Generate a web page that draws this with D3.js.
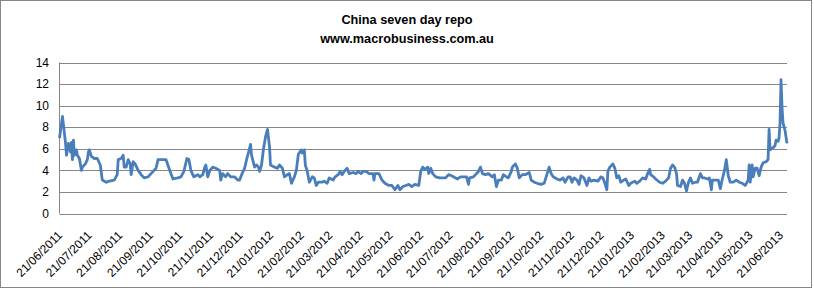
<!DOCTYPE html>
<html>
<head>
<meta charset="utf-8">
<title>China seven day repo</title>
<style>
body { margin: 0; background: #fff; }
text { font-family: "Liberation Sans", Arial, sans-serif; fill: #000; }
.title { font-size: 12.7px; font-weight: bold; }
.tick-label { font-size: 12px; }
.grid line { stroke: #868686; stroke-width: 1px; }
path.repo { fill: none; stroke: #4a7ebb; stroke-width: 2.8px; stroke-linejoin: round; }
</style>
</head>
<body>
<script src="https://cdn.jsdelivr.net/npm/d3@7"></script>
<script>

// days since 21/06/2011 for each reading, and the repo rate
var obsDay = [0,3,4,6,7,9,11,12,13,14,15,17,18,20,22,23,26,28,29,30,32,35,38,41,43,47,50,55,58,59,
  62,64,65,67,69,71,72,74,76,79,82,85,89,92,95,97,99,102,107,110,114,119,122,125,128,130,132,135,139,141,
  144,146,147,149,151,154,157,161,162,164,167,169,172,176,179,
  181,183,186,188,190,192,193,196,198,200,201,203,205,207,209,211,212,216,219,221,
  224,226,229,231,233,236,238,240,243,244,246,247,249,251,254,256,258,260,264,266,
  269,271,275,277,280,282,284,286,289,291,295,298,300,303,305,308,311,315,316,317,
  321,324,327,331,334,337,340,342,345,348,351,354,357,361,
  363,365,367,370,371,373,375,378,382,385,388,391,394,398,400,403,407,409,411,412,
  416,418,421,423,425,428,431,435,437,439,441,444,446,449,451,454,455,458,460,462,
  465,468,472,474,477,480,484,487,490,492,494,496,500,503,506,508,511,513,515,517,
  520,522,524,527,530,532,534,537,541,
  544,546,548,550,551,553,556,558,560,562,564,567,569,572,574,578,580,583,586,589,
  591,593,594,597,599,603,606,609,612,614,616,618,620,621,624,626,628,630,632,634,
  636,639,641,644,646,648,651,653,655,656,659,662,664,666,668,670,672,674,677,680,
  683,686,689,692,693,694,696,697,699,701,703,705,707,710,712,713,714,717,719,720,
  722,723,724,725,726,727,729,731];

var repo = [7.0,9.0,8.2,6.6,5.4,6.5,5.7,6.6,5.0,6.8,5.4,5.9,5.4,5.1,4.0,4.3,4.6,5.0,5.7,5.9,
  5.3,5.1,5.1,4.5,3.1,2.9,3.0,3.1,3.6,5.0,5.1,5.4,4.3,4.3,5.0,4.6,3.6,4.8,4.6,4.0,
  3.6,3.3,3.4,3.7,4.0,4.2,5.0,5.0,5.0,4.2,3.2,3.3,3.4,3.9,5.1,5.0,4.0,3.4,3.6,3.4,
  3.6,4.3,4.5,3.4,4.0,4.3,4.2,4.0,3.1,3.7,3.4,3.7,3.4,3.4,3.1,
  3.1,3.6,4.2,5.0,5.7,6.4,5.4,4.3,4.5,4.3,3.9,4.5,6.0,7.1,7.8,6.2,4.5,4.3,4.2,4.5,
  4.2,3.4,3.6,3.7,2.8,3.4,4.0,5.5,5.9,5.6,5.9,4.5,3.9,2.9,3.4,3.3,2.6,2.9,2.9,3.0,
  2.8,3.3,3.1,3.4,3.6,3.9,3.6,3.9,4.2,3.7,3.8,3.7,3.9,3.7,3.9,3.9,3.7,3.7,3.1,3.7,
  3.7,3.1,2.8,2.6,2.6,2.2,2.6,2.2,2.5,2.6,2.7,2.5,2.7,2.6,
  3.9,4.3,4.1,4.3,3.7,4.2,3.7,3.4,3.3,3.3,3.3,3.6,3.5,3.3,3.2,3.4,3.4,3.4,2.7,3.3,
  3.4,3.6,3.9,4.3,3.7,3.6,3.7,3.4,3.6,2.5,3.1,3.1,3.6,3.4,3.3,3.9,4.3,4.6,4.2,3.3,
  3.6,3.6,3.8,3.1,2.9,2.8,2.7,2.8,3.7,4.3,3.7,3.4,3.2,3.1,3.3,2.9,3.4,3.4,2.9,3.3,
  3.1,2.7,3.5,3.3,2.6,3.3,3.0,3.1,3.0,
  3.4,3.3,2.8,2.2,3.9,4.3,4.6,4.2,3.3,3.5,2.9,3.1,3.2,2.6,2.8,3.0,2.8,3.0,3.3,3.2,
  3.7,4.1,3.6,3.4,3.2,2.9,2.8,3.0,3.3,4.2,4.5,4.3,3.7,2.6,2.5,3.1,2.8,2.1,2.9,3.3,
  2.8,2.9,2.9,3.7,3.3,3.3,3.2,3.3,2.2,3.1,3.1,3.1,2.3,3.2,3.9,5.0,3.5,2.9,2.9,3.1,
  2.9,2.8,2.6,3.1,4.5,2.9,4.5,3.4,4.2,4.2,3.5,4.3,4.7,4.8,5.0,7.8,5.9,6.1,6.3,6.8,
  6.7,7.0,8.4,12.4,9.9,8.4,7.7,6.5];

var yTicks = [0, 2, 4, 6, 8, 10, 12, 14];

var xTickLabels = ["21/06/2011","21/07/2011","21/08/2011","21/09/2011","21/10/2011","21/11/2011",
  "21/12/2011","21/01/2012","21/02/2012","21/03/2012","21/04/2012","21/05/2012","21/06/2012",
  "21/07/2012","21/08/2012","21/09/2012","21/10/2012","21/11/2012","21/12/2012","21/01/2013",
  "21/02/2013","21/03/2013","21/04/2013","21/05/2013","21/06/2013"];

var width = 814,
    height = 289;

var parseDate = d3.timeParse("%d/%m/%Y");
var start = parseDate("21/06/2011"),
    end = parseDate("21/06/2013");

var data = obsDay.map(function(d, i) {
  return { date: d3.timeDay.offset(start, d), value: repo[i] };
});

var x = d3.scaleTime()
    .domain([start, end])
    .range([59.5, 787]);

// label positions on the category axis sit slightly inside the plot ends
var xLabel = d3.scaleTime()
    .domain([start, end])
    .range([63, 784]);

var y = d3.scaleLinear()
    .domain([0, 14])
    .range([213.5, 62.5]);

var svg = d3.select("body").append("svg")
    .attr("width", width)
    .attr("height", height);

// outer chart border
svg.append("rect")
    .attr("x", 0.5)
    .attr("y", 0.5)
    .attr("width", width - 3)
    .attr("height", height - 2)
    .style("fill", "#fff")
    .style("stroke", "#868686");

// title
svg.append("text")
    .attr("class", "title")
    .attr("x", 407)
    .attr("y", 24)
    .attr("text-anchor", "middle")
    .text("China seven day repo");

svg.append("text")
    .attr("class", "title")
    .attr("x", 407)
    .attr("y", 43)
    .attr("text-anchor", "middle")
    .text("www.macrobusiness.com.au");

// horizontal gridlines
svg.append("g")
    .attr("class", "grid")
    .selectAll("line")
    .data(yTicks)
    .enter()
    .append("line")
    .attr("x1", x.range()[0])
    .attr("x2", x.range()[1])
    .attr("y1", function(d) { return Math.round(y(d)) + 0.5; })
    .attr("y2", function(d) { return Math.round(y(d)) + 0.5; });

// vertical axis line
svg.append("line")
    .attr("x1", x.range()[0])
    .attr("x2", x.range()[0])
    .attr("y1", y(14))
    .attr("y2", y(0))
    .style("stroke", "#868686");

// y labels
svg.append("g")
    .selectAll("text")
    .data(yTicks)
    .enter()
    .append("text")
    .attr("class", "tick-label")
    .attr("x", 49)
    .attr("y", function(d) { return y(d); })
    .attr("dy", "0.35em")
    .attr("text-anchor", "end")
    .text(function(d) { return d; });

// x labels, rotated
svg.append("g")
    .selectAll("text")
    .data(xTickLabels)
    .enter()
    .append("text")
    .attr("class", "tick-label")
    .attr("text-anchor", "end")
    .attr("transform", function(d) {
      return "translate(" + xLabel(parseDate(d)) + ",236) rotate(-45)";
    })
    .text(function(d) { return d; });

// the series
var line = d3.line()
    .x(function(d) { return x(d.date); })
    .y(function(d) { return y(d.value); });

svg.append("path")
    .datum(data)
    .attr("class", "repo")
    .attr("d", line);

</script>
</body>
</html>
